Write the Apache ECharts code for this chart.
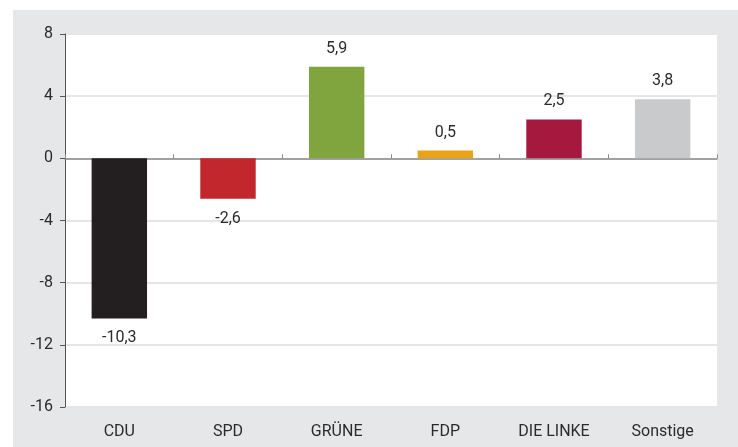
<!DOCTYPE html>
<html>
<head>
<meta charset="utf-8">
<script src="https://cdn.jsdelivr.net/npm/echarts@6/dist/echarts.min.js"></script>
<style>
  html, body { margin: 0; padding: 0; background: #fff; }
  #wrap { position: absolute; left: 13px; top: 10px; width: 725px; height: 437px; background: #e6e7e8; }
  #main { width: 725px; height: 437px; }
</style>
</head>
<body>
<div id="wrap"><div id="main"></div></div>
<script>
// Daten
const parteien = ['CDU', 'SPD', 'GRÜNE', 'FDP', 'DIE LINKE', 'Sonstige'];
const werte = [-10.3, -2.6, 5.9, 0.5, 2.5, 3.8];
const farben = ['#231f20', '#c1272d', '#80a53f', '#e8a317', '#a6193f', '#c9cacc'];

const FONT = 'Roboto, "Liberation Sans", sans-serif';

const chart = echarts.init(document.getElementById('main'));

const option = {
  animation: false,
  grid: {
    left: 52, top: 24, right: 21, bottom: 40,
    show: true, backgroundColor: '#fff', borderWidth: 0
  },
  xAxis: [
    {
      type: 'category',
      data: parteien,
      axisLine: { onZero: true, lineStyle: { color: '#8a8a8a', width: 1.5 } },
      axisTick: { show: true, inside: true, length: 4, lineStyle: { color: '#8a8a8a' } },
      axisLabel: { show: false }
    },
    {
      type: 'category',
      data: parteien,
      position: 'bottom',
      axisLine: { show: false },
      axisTick: { show: false },
      axisLabel: { color: '#2b2b2b', fontSize: 16, fontFamily: FONT, margin: 17 }
    }
  ],
  yAxis: {
    type: 'value',
    min: -16, max: 8, interval: 4,
    axisLine: { show: true, lineStyle: { color: '#555', width: 1 } },
    axisTick: { show: true, length: 5, lineStyle: { color: '#555' } },
    axisLabel: { color: '#2b2b2b', fontSize: 16, fontFamily: FONT, margin: 12 },
    splitLine: { show: true, lineStyle: { color: '#e6e6e6', width: 2 } }
  },
  series: [{
    type: 'bar',
    xAxisIndex: 0,
    barWidth: '51%',
    data: werte.map((v, i) => ({
      value: v,
      itemStyle: { color: farben[i] },
      label: { position: v < 0 ? 'bottom' : 'top', distance: v < 0 ? 12 : 10 }
    })),
    label: {
      show: true,
      color: '#2b2b2b', fontSize: 16, fontFamily: FONT,
      formatter: p => String(p.value).replace('.', ',')
    }
  }]
};

chart.setOption(option);
window.addEventListener('resize', () => chart.resize());
</script>
</body>
</html>
